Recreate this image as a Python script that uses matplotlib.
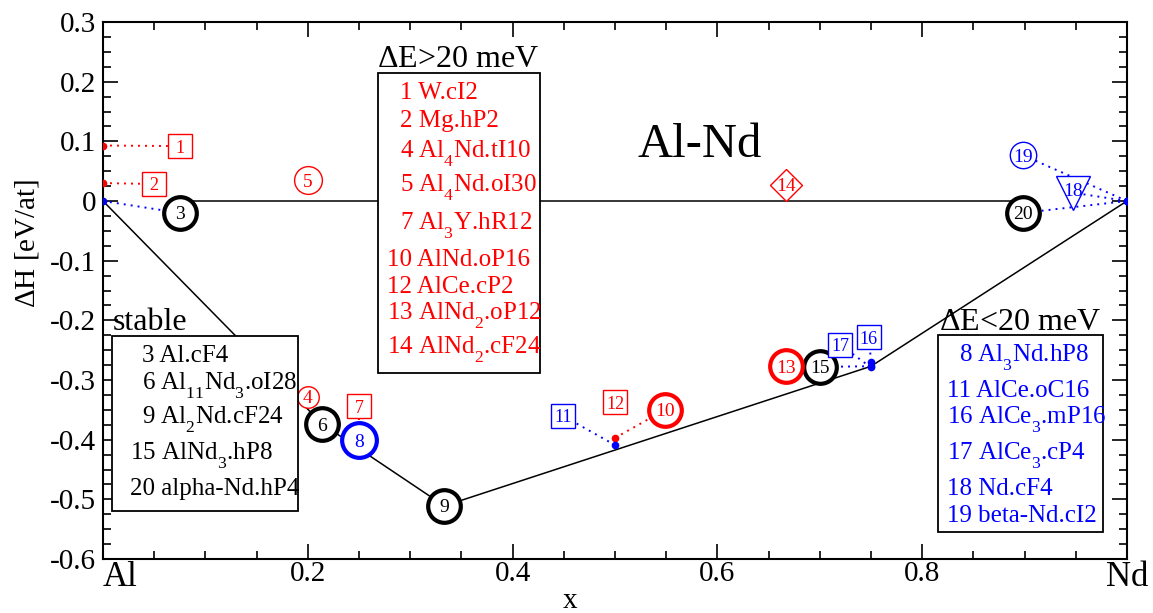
import matplotlib
matplotlib.use("Agg")
import matplotlib.pyplot as plt
from matplotlib.patches import Rectangle
from matplotlib.ticker import MultipleLocator, FixedLocator

try:
    import matplotlib._mathtext as _mt
    _mt.FontConstantsBase.sub1 = 0.8
except Exception:
    pass

plt.rcParams['font.family'] = ['Liberation Serif', 'DejaVu Serif']
plt.rcParams['mathtext.fontset'] = 'custom'
plt.rcParams['mathtext.rm'] = 'Liberation Serif'
plt.rcParams['mathtext.it'] = 'Liberation Serif:italic'
plt.rcParams['mathtext.bf'] = 'Liberation Serif:bold'

RED = '#ff0000'
BLUE = '#0000ff'
BLACK = '#000000'

# ---------------- data ----------------
# stable structures (convex hull)
stable_ids = ['3', '6', '9', '15', '20']
stable_x = [0.0, 3 / 14, 1 / 3, 3 / 4, 1.0]
stable_y = [0.0, -0.374, -0.511, -0.277, 0.0]

# structures with dE > 20 meV (red)
high_ids = ['1', '2', '4', '5', '7', '10', '12', '13', '14']
high_x = [0.0, 0.0, 0.2, 0.2, 0.25, 0.5, 0.5, 2 / 3, 2 / 3]
high_y = [0.093, 0.030, -0.328, 0.035, -0.39, -0.397, -0.337, -0.277, 0.027]

# structures with dE < 20 meV (blue)
low_ids = ['8', '11', '16', '17', '18', '19']
low_x = [0.25, 0.5, 0.75, 0.75, 1.0, 1.0]
low_y = [-0.401, -0.409, -0.269, -0.279, 0.0, 0.0]

# legend texts
stable_names = ['3 Al.cF4', '6 Al$_{11}$Nd$_3$.oI28', '9 Al$_2$Nd.cF24',
                '15 AlNd$_3$.hP8', '20 alpha-Nd.hP4']
high_names = ['1 W.cI2', '2 Mg.hP2', '4 Al$_4$Nd.tI10', '5 Al$_4$Nd.oI30',
              '7 Al$_3$Y.hR12', '10 AlNd.oP16', '12 AlCe.cP2',
              '13 AlNd$_2$.oP12', '14 AlNd$_2$.cF24']
low_names = ['8 Al$_3$Nd.hP8', '11 AlCe.oC16', '16 AlCe$_3$.mP16',
             '17 AlCe$_3$.cP4', '18 Nd.cF4', '19 beta-Nd.cI2']

xtick_vals = [0.0, 0.2, 0.4, 0.6, 0.8, 1.0]
xtick_labels = ['Al', '0.2', '0.4', '0.6', '0.8', 'Nd']
ytick_vals = [-0.6, -0.5, -0.4, -0.3, -0.2, -0.1, 0.0, 0.1, 0.2, 0.3]
ytick_labels = ['-0.6', '-0.5', '-0.4', '-0.3', '-0.2', '-0.1', '0', '0.1', '0.2', '0.3']

# ---------------- layout (label placement / styles) ----------------
# offset label positions (labels not listed sit on their point)
label_pos = {
    '1': (0.0752, 0.092), '2': (0.050, 0.0285), '3': (0.075, -0.020),
    '7': (0.25, -0.344), '10': (0.549, -0.350), '11': (0.449, -0.360),
    '15': (0.700, -0.278), '16': (0.748, -0.228), '17': (0.720, -0.241),
    '18': (0.947, 0.014), '19': (0.898, 0.077), '20': (0.898, -0.020),
}
# marker, size, edge width
label_style = {
    '1': ('s', 17, 1.0), '2': ('s', 17, 1.0), '3': ('o', 23.5, 3.0),
    '4': ('o', 15.5, 1.0), '5': ('o', 20, 1.0), '6': ('o', 23.5, 3.0),
    '7': ('s', 17, 1.0), '8': ('o', 25, 3.0), '9': ('o', 23.5, 3.0),
    '10': ('o', 23.5, 3.0), '11': ('s', 17, 1.0), '12': ('s', 17, 1.0),
    '13': ('o', 23.5, 3.0), '14': ('D', 16.5, 1.0), '15': ('o', 23.5, 3.0),
    '16': ('s', 17, 1.0), '17': ('s', 17, 1.0), '18': ('v', 25, 1.0),
    '19': ('o', 19, 1.0), '20': ('o', 23.5, 3.0),
}

fig = plt.figure(figsize=(11.53, 6.13), dpi=100)
ax = fig.add_axes([103 / 1153, 1 - 559 / 613, 1024 / 1153, 537 / 613])
ax.set_xlim(0, 1)
ax.set_ylim(-0.6, 0.3)

dot = (0, (1, 2.6))

# convex hull
ax.plot(stable_x, stable_y, color=BLACK, lw=1.1, zorder=2)
# zero line between labels 3 and 20
ax.plot([label_pos['3'][0], label_pos['20'][0]], [0, 0], color=BLACK, lw=1.1, zorder=2)

groups = [
    (stable_ids, stable_x, stable_y, BLACK, BLUE),
    (high_ids, high_x, high_y, RED, RED),
    (low_ids, low_x, low_y, BLUE, BLUE),
]

# points and connectors
for ids, xs, ys, col, dotcol in groups:
    ax.plot(xs, ys, 'o', color=dotcol, ms=4.5, ls='none', zorder=3)
    for i, x, y in zip(ids, xs, ys):
        if i in label_pos:
            lx, ly = label_pos[i]
            ax.plot([x, lx], [y, ly], color=dotcol, lw=1.4, ls=dot, zorder=2)

# label markers
for ids, xs, ys, col, dotcol in groups:
    for i, x, y in zip(ids, xs, ys):
        lx, ly = label_pos.get(i, (x, y))
        m, ms, mew = label_style[i]
        ax.plot([lx], [ly], marker=m, ms=ms, mew=mew, mec=col, mfc='white',
                ls='none', zorder=4)
        dy = 2.5 if m == 'v' else 0
        ax.annotate(i, (lx, ly), xytext=(0, dy), textcoords='offset points',
                    ha='center', va='center_baseline', color=col,
                    fontsize=14 if m in ('o', 'v', 'D') else 13, zorder=5)

# title
ax.text(0.583, 0.0732, 'Al-Nd', fontsize=35, ha='center', va='baseline', zorder=5)

# legend boxes
def legend_box(x0, x1, y0, y1, title, tx, ty, tha, names, xs1, xs2, ys, color):
    ax.add_patch(Rectangle((x0, y0), x1 - x0, y1 - y0, facecolor='white',
                           edgecolor=BLACK, lw=1.3, zorder=6))
    ax.text(tx, ty, title, fontsize=23, ha=tha, va='baseline', zorder=7)
    for name, y in zip(names, ys):
        num = name.split()[0]
        x = xs1 if len(num) == 1 else xs2
        ax.text(x, y, name, fontsize=18, color=color, ha='left', va='baseline', zorder=7)

legend_box(0.2686, 0.4268, -0.2883, 0.2145, r'$\Delta$E>20 meV', 0.3467, 0.2246, 'center',
           high_names, 0.2896, 0.2773,
           [0.1704, 0.1245, 0.0732, 0.0156, -0.0474, -0.1089, -0.1537, -0.1983, -0.2550], RED)
legend_box(0.0088, 0.1904, -0.5190, -0.2262, 'stable', 0.0098, -0.2162, 'left',
           stable_names, 0.0381, 0.0264,
           [-0.2693, -0.3156, -0.3726, -0.4329, -0.4927], BLACK)
legend_box(0.8154, 0.9766, -0.5547, -0.2246, r'$\Delta$E<20 meV', 0.8164, -0.2162, 'left',
           low_names, 0.8364, 0.8242,
           [-0.2693, -0.3280, -0.3726, -0.4329, -0.4927, -0.5375], BLUE)

# axes / ticks
ax.xaxis.set_major_locator(FixedLocator(xtick_vals))
ax.set_xticklabels(xtick_labels)
ax.xaxis.set_minor_locator(MultipleLocator(0.05))
ax.yaxis.set_major_locator(FixedLocator(ytick_vals))
ax.set_yticklabels(ytick_labels)
ax.yaxis.set_minor_locator(MultipleLocator(0.025))
ax.tick_params(which='both', direction='in', top=True, right=True, width=1.2)
ax.tick_params(which='major', length=11)
ax.tick_params(which='minor', length=5.5)
ax.tick_params(axis='x', labelsize=21, pad=1.5)
ax.tick_params(axis='y', labelsize=21, pad=5)
xl = ax.get_xticklabels()
for k in (0, -1):
    xl[k].set_fontsize(25)
xl[0].set_ha('left')
for s in ax.spines.values():
    s.set_linewidth(1.5)

ax.text(-0.074, 0.588, r'$\Delta$H [eV/at]', rotation=90, fontsize=21,
        ha='center', va='center', transform=ax.transAxes)
fig.text(570 / 1153, 5 / 613, 'x', fontsize=21, ha='center', va='baseline')

fig.savefig('out.png', dpi=100)
